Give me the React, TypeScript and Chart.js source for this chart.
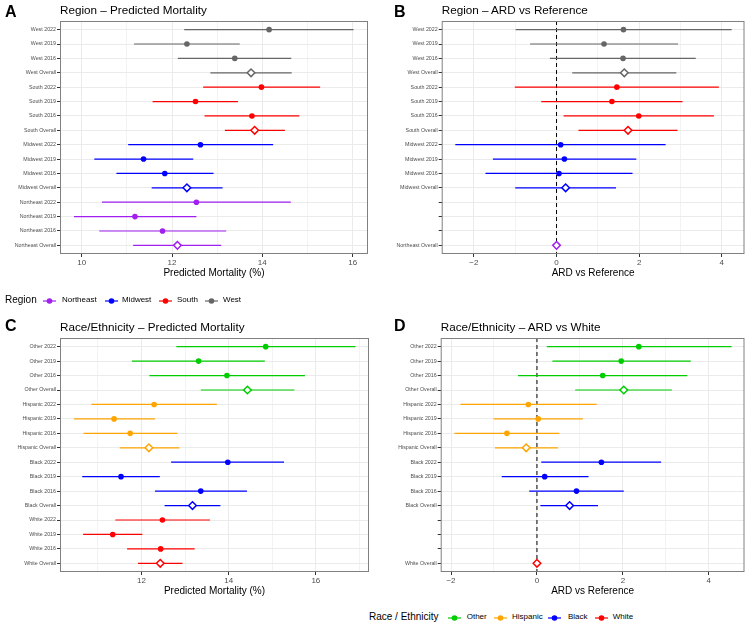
import React, { useEffect, useRef } from "react";
import { Chart, registerables } from "chart.js";
Chart.register(...registerables);

const FONT = "'Liberation Sans', Arial, Helvetica, sans-serif";

// ---------- Region data (top to bottom) ----------
const regionRows = [
  "West 2022", "West 2019", "West 2016", "West Overall",
  "South 2022", "South 2019", "South 2016", "South Overall",
  "Midwest 2022", "Midwest 2019", "Midwest 2016", "Midwest Overall",
  "Northeast 2022", "Northeast 2019", "Northeast 2016", "Northeast Overall",
];
const regionGroups = [
  "West", "West", "West", "West",
  "South", "South", "South", "South",
  "Midwest", "Midwest", "Midwest", "Midwest",
  "Northeast", "Northeast", "Northeast", "Northeast",
];
const regionPredEst = [14.15, 12.33, 13.39, 13.75, 13.98, 12.52, 13.77, 13.83, 12.63, 11.37, 11.84, 12.33, 12.54, 11.18, 11.79, 12.12];
const regionPredLo = [12.27, 11.16, 12.13, 12.85, 12.69, 11.57, 12.72, 13.17, 11.03, 10.28, 10.77, 11.55, 10.45, 9.83, 10.39, 11.14];
const regionPredHi = [16.02, 13.5, 14.64, 14.65, 15.28, 13.46, 14.82, 14.5, 14.24, 12.47, 12.92, 13.12, 14.63, 12.54, 13.2, 13.09];
const regionArdEst = [1.62, 1.15, 1.61, 1.64, 1.46, 1.34, 1.99, 1.73, 0.1, 0.19, 0.06, 0.22, null, null, null, 0];
const regionArdLo = [-0.99, -0.64, -0.16, 0.38, -1.01, -0.37, 0.17, 0.53, -2.45, -1.54, -1.72, -1.0, null, null, null, 0];
const regionArdHi = [4.24, 2.94, 3.37, 2.9, 3.93, 3.05, 3.81, 2.93, 2.64, 1.93, 1.84, 1.44, null, null, null, 0];
const regionLegend = ["Northeast", "Midwest", "South", "West"];
const regionColors: Record<string, string> = {
  Northeast: "#A020F0", Midwest: "#0000FF", South: "#FF0000", West: "#666666",
};

// ---------- Race / Ethnicity data (top to bottom) ----------
const raceRows = [
  "Other 2022", "Other 2019", "Other 2016", "Other Overall",
  "Hispanic 2022", "Hispanic 2019", "Hispanic 2016", "Hispanic Overall",
  "Black 2022", "Black 2019", "Black 2016", "Black Overall",
  "White 2022", "White 2019", "White 2016", "White Overall",
];
const raceGroups = [
  "Other", "Other", "Other", "Other",
  "Hispanic", "Hispanic", "Hispanic", "Hispanic",
  "Black", "Black", "Black", "Black",
  "White", "White", "White", "White",
];
const racePredEst = [14.85, 13.31, 13.96, 14.43, 12.29, 11.37, 11.74, 12.17, 13.98, 11.53, 13.36, 13.17, 12.48, 11.34, 12.44, 12.43];
const racePredLo = [12.8, 11.78, 12.18, 13.36, 10.85, 10.45, 10.67, 11.5, 12.68, 10.64, 12.31, 12.53, 11.4, 10.66, 11.67, 11.92];
const racePredHi = [16.91, 14.83, 15.75, 15.51, 13.73, 12.31, 12.82, 12.87, 15.27, 12.42, 14.42, 13.81, 13.57, 12.02, 13.22, 12.94];
const raceArdEst = [2.37, 1.96, 1.53, 2.02, -0.2, 0.03, -0.7, -0.25, 1.5, 0.18, 0.92, 0.76, null, null, null, 0];
const raceArdLo = [0.23, 0.36, -0.44, 0.89, -1.78, -1.01, -1.92, -0.98, 0.1, -0.82, -0.18, 0.08, null, null, null, 0];
const raceArdHi = [4.53, 3.58, 3.5, 3.14, 1.39, 1.07, 0.52, 0.49, 2.89, 1.2, 2.02, 1.42, null, null, null, 0];
const raceLegend = ["Other", "Hispanic", "Black", "White"];
const raceColors: Record<string, string> = {
  Other: "#00CD00", Hispanic: "#FFA500", Black: "#0000FF", White: "#FF0000",
};

// ---------- axis ticks ----------
const predRegionMajor = [10, 12, 14, 16];
const predRegionMinor = [11, 13, 15];
const predRaceMajor = [12, 14, 16];
const predRaceMinor = [11, 13, 15, 17];
const ardMajor = [-2, 0, 2, 4];
const ardMinor = [-1, 1, 3];

type Spec = {
  rows: string[]; groups: string[];
  est: (number | null)[]; lo: (number | null)[]; hi: (number | null)[];
  colors: Record<string, string>;
  xMin: number; xMax: number; major: number[]; minor: number[];
  xTitle: string; zeroLine: boolean;
  canvas: { left: number; top: number; w: number; h: number };
  area: { l: number; t: number; r: number; b: number };
  titleBottom: number;
};

const fmt = (v: number) => (v < 0 ? "\u2212" + Math.abs(v) : String(v));

const borderPlugin = {
  id: "panelBorder",
  afterDraw(chart: any) {
    const { ctx, chartArea: a } = chart;
    ctx.save();
    ctx.strokeStyle = "#808080";
    ctx.lineWidth = 1;
    ctx.strokeRect(a.left + 0.5, a.top + 0.5, a.right - a.left - 1, a.bottom - a.top - 1);
    ctx.restore();
  },
};

function Panel({ spec }: { spec: Spec }) {
  const ref = useRef<HTMLCanvasElement>(null);
  useEffect(() => {
    const s = spec;
    const n = s.rows.length;
    const datasets: any[] = [];
    if (s.zeroLine) {
      datasets.push({
        data: [{ x: 0, y: -0.6 }, { x: 0, y: n - 0.4 }],
        showLine: true, borderColor: "#000", borderWidth: 1, borderDash: [4, 3],
        pointRadius: 0, order: 5,
      });
    }
    s.rows.forEach((_, i) => {
      const lo = s.lo[i], hi = s.hi[i];
      if (lo == null || hi == null || lo === hi) return;
      datasets.push({
        data: [{ x: lo, y: i }, { x: hi, y: i }],
        showLine: true, borderColor: s.colors[s.groups[i]], borderWidth: 1.2,
        pointRadius: 0, order: 4,
      });
    });
    const yearIdx = s.rows.map((r, i) => i).filter((i) => s.est[i] != null && !s.rows[i].includes("Overall"));
    const ovIdx = s.rows.map((r, i) => i).filter((i) => s.est[i] != null && s.rows[i].includes("Overall"));
    datasets.push({
      data: yearIdx.map((i) => ({ x: s.est[i], y: i })),
      pointRadius: 2.8,
      pointBackgroundColor: yearIdx.map((i) => s.colors[s.groups[i]]),
      pointBorderColor: yearIdx.map((i) => s.colors[s.groups[i]]),
      pointBorderWidth: 0,
      order: 2,
    });
    datasets.push({
      data: ovIdx.map((i) => ({ x: s.est[i], y: i })),
      pointStyle: "rectRot",
      pointRadius: 3.8,
      pointBackgroundColor: "#FFFFFF",
      pointBorderColor: ovIdx.map((i) => s.colors[s.groups[i]]),
      pointBorderWidth: 1.5,
      order: 1,
    });
    const labels = s.rows.map((r, i) => (s.est[i] == null ? "" : r));
    const xTicks = [...s.major, ...s.minor].sort((a, b) => a - b);
    const chart = new Chart(ref.current as HTMLCanvasElement, {
      type: "scatter",
      data: { datasets },
      plugins: [borderPlugin],
      options: {
        animation: false,
        responsive: false,
        devicePixelRatio: 1,
        events: [],
        layout: { padding: { left: 0, top: s.area.t, right: s.canvas.w - s.area.r, bottom: 0 } },
        plugins: { legend: { display: false }, tooltip: { enabled: false } },
        scales: {
          x: {
            type: "linear", min: s.xMin, max: s.xMax, bounds: "data",
            afterBuildTicks: (sc: any) => { sc.ticks = xTicks.map((v) => ({ value: v })); },
            afterFit: (sc: any) => { sc.height = s.canvas.h - s.area.b; },
            ticks: {
              autoSkip: false, maxRotation: 0, padding: 1,
              font: { family: FONT, size: 8 }, color: "#4D4D4D",
              callback: (v: any) => (s.major.includes(Number(v)) ? fmt(Number(v)) : ""),
            },
            grid: {
              color: "#EBEBEB",
              lineWidth: (ctx: any) => (ctx.tick && s.major.includes(ctx.tick.value) ? 1 : 0.6),
              tickColor: (ctx: any) => (ctx.tick && s.major.includes(ctx.tick.value) ? "#333333" : "rgba(0,0,0,0)"),
              tickLength: 3, drawTicks: true,
            },
            border: { display: false },
            title: {
              display: true, text: s.xTitle, color: "#000",
              font: { family: FONT, size: 10 },
              padding: { top: 0, bottom: s.titleBottom },
            },
          },
          y: {
            type: "linear", min: -0.6, max: n - 0.4, reverse: true, bounds: "data",
            afterBuildTicks: (sc: any) => { sc.ticks = s.rows.map((_, i) => ({ value: i })); },
            afterFit: (sc: any) => { sc.width = s.area.l; },
            ticks: {
              autoSkip: false, padding: 1,
              font: { family: FONT, size: 5.3 }, color: "#4D4D4D",
              callback: (v: any, idx: number) => labels[idx] ?? "",
            },
            grid: { color: "#EBEBEB", lineWidth: 1, tickColor: "#333333", tickLength: 3, drawTicks: true },
            border: { display: false },
          },
        },
      } as any,
    });
    return () => chart.destroy();
  }, [spec]);
  const c = spec.canvas;
  return (
    <canvas
      ref={ref}
      width={c.w}
      height={c.h}
      style={{ position: "absolute", left: c.left, top: c.top, width: c.w, height: c.h }}
    />
  );
}

const specA: Spec = {
  rows: regionRows, groups: regionGroups, est: regionPredEst, lo: regionPredLo, hi: regionPredHi,
  colors: regionColors, xMin: 9.52, xMax: 16.34, major: predRegionMajor, minor: predRegionMinor,
  xTitle: "Predicted Mortality (%)", zeroLine: false,
  canvas: { left: 0, top: 0, w: 375, h: 290 }, area: { l: 60, t: 21, r: 368, b: 254 }, titleBottom: 11,
};
const specB: Spec = {
  rows: regionRows, groups: regionGroups, est: regionArdEst, lo: regionArdLo, hi: regionArdHi,
  colors: regionColors, xMin: -2.78, xMax: 4.55, major: ardMajor, minor: ardMinor,
  xTitle: "ARD vs Reference", zeroLine: true,
  canvas: { left: 375, top: 0, w: 375, h: 290 }, area: { l: 66.7, t: 21, r: 374, b: 254 }, titleBottom: 11,
};
const specC: Spec = {
  rows: raceRows, groups: raceGroups, est: racePredEst, lo: racePredLo, hi: racePredHi,
  colors: raceColors, xMin: 10.13, xMax: 17.22, major: predRaceMajor, minor: predRaceMinor,
  xTitle: "Predicted Mortality (%)", zeroLine: false,
  canvas: { left: 0, top: 300, w: 375, h: 310 }, area: { l: 60, t: 38, r: 369, b: 272 }, titleBottom: 13,
};
const specD: Spec = {
  rows: raceRows, groups: raceGroups, est: raceArdEst, lo: raceArdLo, hi: raceArdHi,
  colors: raceColors, xMin: -2.24, xMax: 4.83, major: ardMajor, minor: ardMinor,
  xTitle: "ARD vs Reference", zeroLine: true,
  canvas: { left: 375, top: 300, w: 375, h: 310 }, area: { l: 65.7, t: 38, r: 374, b: 272 }, titleBottom: 13,
};

function Text({ x, y, size, bold, children }: any) {
  return (
    <div
      style={{
        position: "absolute", left: x, top: y, fontFamily: FONT, fontSize: size,
        lineHeight: size + "px", fontWeight: bold ? 700 : 400, color: "#000", whiteSpace: "nowrap",
      }}
    >
      {children}
    </div>
  );
}

function Key({ x, y, color }: any) {
  return (
    <svg width={13} height={10} style={{ position: "absolute", left: x, top: y }}>
      <line x1={0} y1={5} x2={13} y2={5} stroke={color} strokeWidth={1.2} />
      <circle cx={6.5} cy={5} r={2.8} fill={color} />
    </svg>
  );
}

const regionKeyX = [42.5, 104.5, 159, 205];
const regionLabelX = [62, 122, 177, 223];
const raceKeyX = [447.5, 493.5, 547.5, 595];
const raceLabelX = [466.7, 512, 568, 612.7];

export default function App() {
  return (
    <div style={{ position: "absolute", left: 0, top: 0, width: 750, height: 631, background: "#fff", overflow: "hidden" }}>
      <Panel spec={specA} />
      <Panel spec={specB} />
      <Panel spec={specC} />
      <Panel spec={specD} />

      <Text x={5} y={3.8} size={16} bold>A</Text>
      <Text x={60} y={3.8} size={11.7}>Region – Predicted Mortality</Text>
      <Text x={394} y={3.8} size={16} bold>B</Text>
      <Text x={441.7} y={3.8} size={11.7}>Region – ARD vs Reference</Text>
      <Text x={5} y={318.2} size={16} bold>C</Text>
      <Text x={60} y={320.5} size={11.7}>Race/Ethnicity – Predicted Mortality</Text>
      <Text x={394} y={318.2} size={16} bold>D</Text>
      <Text x={440.7} y={320.5} size={11.7}>Race/Ethnicity – ARD vs White</Text>

      <Text x={5} y={294.5} size={10}>Region</Text>
      {regionLegend.map((g, i) => (
        <React.Fragment key={g}>
          <Key x={regionKeyX[i]} y={296} color={regionColors[g]} />
          <Text x={regionLabelX[i]} y={296} size={8}>{g}</Text>
        </React.Fragment>
      ))}

      <Text x={369} y={611.5} size={10}>Race / Ethnicity</Text>
      {raceLegend.map((g, i) => (
        <React.Fragment key={g}>
          <Key x={raceKeyX[i]} y={613} color={raceColors[g]} />
          <Text x={raceLabelX[i]} y={613} size={8}>{g}</Text>
        </React.Fragment>
      ))}
    </div>
  );
}
